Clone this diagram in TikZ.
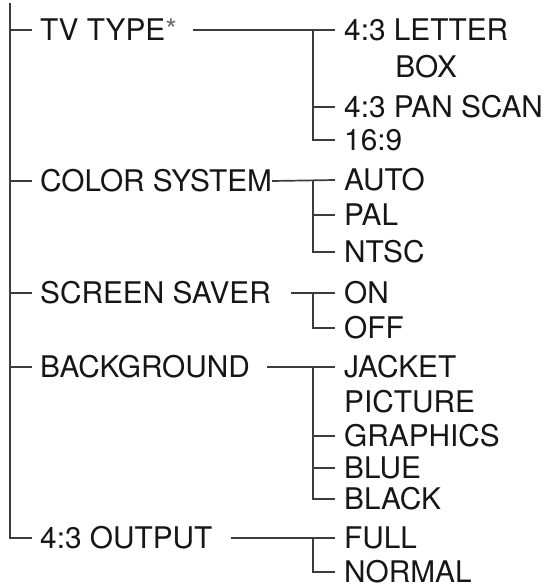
\documentclass[tikz,border=0pt]{standalone}
\usepackage{fontspec}
\setmainfont{TeX Gyre Heros}
\definecolor{menu-line}{RGB}{60,60,60}
\definecolor{menu-text}{RGB}{22,22,22}
\definecolor{menu-star}{RGB}{110,110,110}
\usetikzlibrary{calc}
\usetikzlibrary{positioning}

\begin{document}
\begin{tikzpicture}[%
            x=1pt,y=-1pt,
            menutext/.style={inner xsep=0pt,inner ysep=0pt,
              text height=21.5pt,text depth=0pt,
              font=\fontsize{29.8}{34}\selectfont,text=menu-text},
            item/.style={menutext,anchor=west,inner xsep=8pt},
            subitem/.style={menutext,anchor=west,inner xsep=9pt},
            branch/.style={draw=menu-line,line width=1.7pt}
          ]
            \useasboundingbox (0,0) rectangle (548,587);
            \def\xRoot{10}
            \def\xSub{313}

            \coordinate (top) at (\xRoot,3);
            \coordinate (sub) at (\xSub,0);

            % first level
            \node [item] (tvtype) at (32,30) {TV TYPE\textcolor{menu-star}{*}};
            \node [item] (color) at (32,181) {COLOR SYSTEM};
            \node [item] (saver) at (32,293) {SCREEN SAVER};
            \node [item] (background) at (32,367) {BACKGROUND};
            \node [item] (output) at (32,538) {4:3 OUTPUT};

            % second level
            \node [subitem] (letterbox) at (335,30) {4:3 LETTER};
            \node [menutext] (box) at ($(letterbox.center)+(0,37)$) {BOX};
            \node [subitem] (panscan) at (335,107) {4:3 PAN SCAN};
            \node [subitem] (wide) at (335,140) {16:9};

            \node [subitem] (auto) at (335,180) {AUTO};
            \node [subitem] (pal) at (335,215) {PAL};
            \node [subitem] (ntsc) at (335,252) {NTSC};

            \node [subitem] (on) at (335,293) {ON};
            \node [subitem] (off) at (335,328) {OFF};

            \node [subitem] (jacket) at (335,367) {JACKET};
            \node [subitem] (picture) at (335,402) {PICTURE};
            \node [subitem] (graphics) at (335,436) {GRAPHICS};
            \node [subitem] (blue) at (335,468) {BLUE};
            \node [subitem] (black) at (335,499) {BLACK};

            \node [subitem] (full) at (335,538) {FULL};
            \node [subitem] (normal) at (335,572) {NORMAL};

            % trunk
            \draw [branch] (top) |- (output.west);
            \foreach \n in {tvtype,color,saver,background}
              \draw [branch] (\n.west -| top) -- (\n.west);

            % branches to the options
            \draw [branch] ([xshift=8pt]tvtype.east) -- (letterbox.west);
            \draw [branch] ([xshift=-8pt]color.east) -- (auto.west);
            \draw [branch] ([xshift=12pt]saver.east) -- (on.west);
            \draw [branch] ([xshift=9pt]background.east) -- (jacket.west);
            \draw [branch] ([xshift=10pt]output.east) -- (full.west);

            \foreach \a/\b in {letterbox/wide,auto/ntsc,on/off,jacket/black,full/normal}
              \draw [branch] (\a.west -| sub) |- (\b.west);
            \foreach \n in {panscan,pal,graphics,blue}
              \draw [branch] (\n.west -| sub) -- (\n.west);
          \end{tikzpicture}
\end{document}
